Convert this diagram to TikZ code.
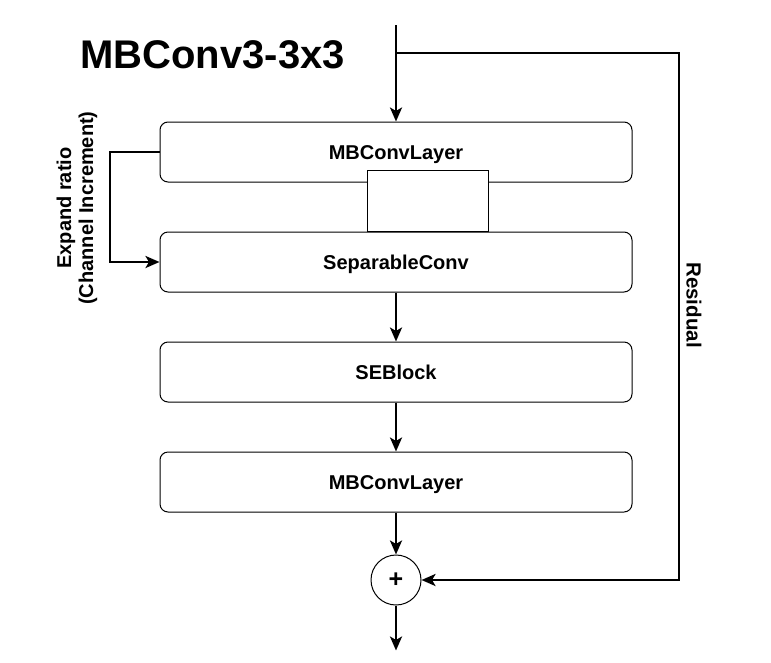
\documentclass[tikz,border=0pt]{standalone}
\usepackage{fontspec}
\setmainfont{Liberation Sans}
\usepackage{tikz}
\usetikzlibrary{
	arrows.meta,
	positioning,
	calc,
}
\tikzset{layer/.style={
		% The shape:
		rectangle,
		rounded corners=8pt,
		% The size:
		minimum width=472pt,
		minimum height=60pt,
		% The border:
		line width=1pt,
		draw=black,
		% The text:
		font=\fontsize{20}{22}\selectfont\bfseries,
		text height=14.3pt,
		text depth=0pt,
}}
\tikzset{addop/.style={
		circle,
		minimum size=50pt,
		inner sep=0pt,
		line width=1pt,
		draw=black,
		font=\fontsize{25}{26}\selectfont\bfseries,
}}
\tikzset{blankbox/.style={
		rectangle,
		minimum width=121pt,
		minimum height=61pt,
		line width=1pt,
		draw=black,
		fill=white,
}}

\begin{document}
\begin{tikzpicture}[
	x=1pt,y=-1pt,
	>= {Stealth[length=14pt,width=12pt,inset=3.5pt]},
	line width=2.8pt,black,
	text=black,
	node distance = 49pt,
	every new ->/.style={shorten >=0pt}
	]
	\useasboundingbox (0,0) rectangle (771,662);
	
	%% title
	\node (title) [anchor=west,inner sep=0pt,font=\fontsize{40}{42}\selectfont\bfseries] at (79,55) {MBConv3-3x3};
	
	%% layers
	\node (conv1) [layer] at (396,152) {MBConvLayer};
	\node (sep) [layer,below=of conv1] {SeparableConv};
	\node (se) [layer,below=of sep] {SEBlock};
	\node (conv2) [layer,below=of se] {MBConvLayer};
	\node (add) [addop,below=42pt of conv2] {+};
	\node (blank) [blankbox,anchor=south] at ([xshift=31.5pt]sep.north) { };
	
	%% free ends
	\coordinate (in) at (396,25);
	\coordinate (split) at (396,53);
	\coordinate (skip) at (679,53);
	\coordinate [below=45pt of add] (out);
	\coordinate (bend) at (110,152);
	
	%% labels
	\node (expand) [rotate=90,align=center,font=\fontsize{20}{22}\selectfont\bfseries] at (77,208) {Expand ratio\\(Channel Increment)};
	\node (resid) [rotate=-90,font=\fontsize{20.5}{22}\selectfont\bfseries] at (694,305) {Residual};
	
	%% main path
	\draw[->] (in) to (conv1);
	\draw[->] (sep) to (se);
	\draw[->] (se) to (conv2);
	\draw[->] (conv2) to (add);
	\draw[->] (add) to (out);
	
	%% expand ratio
	\draw[->] (conv1.west) -- (bend) |- (sep.west);
	
	%% residual
	\draw[->] (split) -- (skip) |- (add);
	
\end{tikzpicture}
\end{document}
